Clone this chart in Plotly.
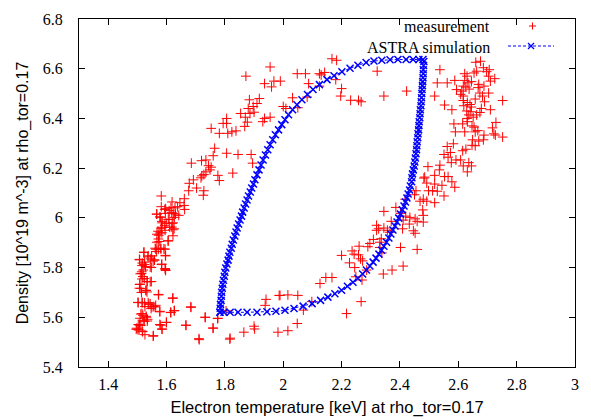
import plotly.graph_objects as go

# ---------------- data ----------------
meas_T = [
    1.955,1.872,1.936,1.968,1.990,1.960,1.884,1.918,1.910,1.897,1.880,1.900,1.886,1.854,1.870,1.936,1.955,1.930,1.877,1.806,
    1.806,1.794,1.868,1.838,1.824,1.810,1.753,1.781,1.765,1.760,1.806,1.845,1.890,1.895,1.685,1.720,1.735,1.744,1.753,
    2.048,2.076,2.087,2.167,2.183,2.124,2.142,2.130,2.180,2.322,2.200,2.124,2.032,2.082,2.197,2.231,2.258,2.267,2.345,2.423,
    2.000,2.009,2.050,2.496,
    2.537,2.660,2.676,2.686,2.706,2.697,2.663,2.654,2.622,2.630,2.704,2.725,2.710,2.622,2.588,2.562,2.528,2.633,2.645,2.670,
    2.617,2.626,2.637,2.688,2.668,2.594,2.612,2.608,2.617,2.674,2.704,2.683,2.519,2.658,2.617,2.631,2.690,2.752,2.640,2.619,
    2.553,2.645,2.679,2.710,2.578,2.629,2.643,2.674,2.636,2.663,2.630,2.651,2.585,2.615,2.631,2.647,2.654,2.729,2.717,2.590,
    2.622,2.658,2.667,2.688,2.722,2.727,2.752,2.649,2.670,2.686,2.583,2.647,2.658,2.562,2.615,2.626,2.573,2.551,2.565,2.592,
    2.608,2.576,2.636,2.617,2.645,2.537,2.535,2.631,2.519,2.553,2.565,2.578,2.519,2.544,2.588,2.512,2.528,2.551,
    2.485,2.492,2.498,2.480,2.492,2.519,2.478,2.480,2.480,
    2.482,2.455,2.450,2.469,2.418,2.452,2.434,2.420,2.459,2.386,2.345,2.402,2.411,2.370,2.432,2.409,2.446,2.452,
    2.320,2.327,2.320,2.345,2.357,2.366,2.336,2.331,2.309,2.297,2.290,2.260,2.331,2.402,2.459,2.236,2.243,2.258,2.265,2.272,
    2.338,2.200,2.227,2.245,2.411,2.373,2.343,2.286,2.249,2.270,2.146,2.167,2.126,1.989,2.016,2.050,2.098,2.267,2.069,2.217,
    2.048,2.016,
    1.776,1.827,1.781,1.735,1.728,1.721,1.692,1.678,1.703,1.728,1.726,1.676,1.582,1.619,1.646,1.660,1.662,1.582,1.594,1.609,
    1.566,1.577,1.596,1.623,1.642,1.584,1.609,1.619,1.594,1.626,1.571,1.584,1.573,1.605,1.575,1.561,1.580,1.591,1.566,1.523,
    1.596,1.536,1.546,1.507,1.559,1.525,1.516,1.584,1.548,1.596,1.520,1.514,1.516,1.534,1.548,1.509,1.507,1.530,1.514,1.573,
    1.621,1.502,1.516,1.525,1.539,1.550,1.561,1.683,1.626,1.614,1.577,1.516,1.530,1.509,1.520,1.534,1.600,1.580,1.507,1.498,
    1.518,1.502,1.555,1.584,1.667,1.733,1.760,1.712,1.776,1.817,1.865,1.900,1.902,1.982,1.941,1.938,1.986,1.804,
    1.581,1.595,1.618,1.622,1.567,1.577,1.606,1.572,1.567,1.622,1.563,1.572,1.581,1.595,1.522,1.537,1.549,1.597,1.558,1.554,
    1.508,1.517,1.524,1.528,1.583,1.544,1.595,1.597,1.515,1.510,1.519,1.524,1.533,1.544,1.508,1.512,1.529,1.533,1.572,1.622,
    1.503,1.517,1.537,1.544,1.526,1.556,1.563,1.684,1.547,1.627,1.615,1.577,1.512,1.519,1.531,1.535,1.524,1.732,1.775,
    1.503,1.512,1.496,1.506,1.517,1.526,1.577,1.599,1.585,1.666,1.759,1.554,1.711,1.818,
    1.597,1.615,1.629,1.638,1.618,1.631,1.627,1.606,1.579,1.567,1.585,1.599,1.622,1.611,1.583,1.661,1.718,1.749,
]
meas_n = [
    6.607,6.570,6.540,6.550,6.550,6.527,6.475,6.480,6.460,6.448,6.440,6.425,6.420,6.420,6.405,6.400,6.405,6.387,6.385,6.400,
    6.380,6.380,6.368,6.350,6.346,6.340,6.360,6.340,6.280,6.250,6.260,6.255,6.255,6.220,6.220,6.230,6.233,6.210,6.204,
    6.580,6.580,6.540,6.640,6.634,6.580,6.585,6.575,6.556,6.590,6.520,6.530,6.483,6.486,6.490,6.473,6.473,6.467,6.490,6.510,
    6.448,6.440,6.443,6.206,
    6.596,6.626,6.630,6.604,6.596,6.588,6.590,6.583,6.580,6.570,6.570,6.560,6.550,6.553,6.553,6.543,6.543,6.543,6.548,6.537,
    6.530,6.526,6.518,6.530,6.524,6.516,6.510,6.497,6.490,6.502,6.502,6.490,6.490,6.478,6.472,6.464,6.467,6.472,6.456,6.451,
    6.454,6.446,6.440,6.435,6.435,6.430,6.427,6.424,6.414,6.414,6.400,6.405,6.378,6.378,6.387,6.370,6.365,6.384,6.362,6.346,
    6.346,6.346,6.351,6.333,6.338,6.333,6.325,6.314,6.309,6.314,6.298,6.292,6.290,6.287,6.270,6.276,6.263,6.255,6.244,6.233,
    6.233,6.222,6.222,6.209,6.209,6.212,6.193,6.185,6.171,6.166,6.166,6.145,6.136,6.131,6.123,6.109,6.107,6.088,
    6.164,6.140,6.109,6.075,6.067,6.061,6.032,6.010,5.983,
    6.160,6.109,6.093,6.067,6.075,5.996,6.002,6.007,5.986,6.042,6.026,6.018,5.991,5.986,5.975,5.956,5.948,5.938,
    5.970,5.956,5.950,5.959,5.950,5.942,5.916,5.902,5.913,5.897,5.884,5.886,5.881,5.881,5.873,5.867,5.854,5.851,5.835,5.827,
    5.859,5.849,5.819,5.800,5.806,5.790,5.774,5.790,5.763,5.750,5.760,5.760,5.736,5.688,5.690,5.688,5.663,5.663,5.629,5.615,
    5.575,5.546,
    6.171,6.180,6.150,6.185,6.174,6.169,6.153,6.139,6.120,6.109,6.091,6.109,6.088,6.064,6.061,6.050,6.034,6.045,6.034,6.029,
    6.015,6.004,6.018,6.018,6.010,5.986,5.994,5.978,5.970,5.956,5.946,5.940,5.930,5.908,5.905,5.878,5.878,5.875,5.865,5.862,
    5.849,5.843,5.835,5.833,5.830,5.822,5.808,5.814,5.800,5.792,5.790,5.776,5.754,5.744,5.744,5.733,5.717,5.709,5.700,5.690,
    5.676,5.660,5.660,5.658,5.652,5.642,5.642,5.642,5.626,5.620,5.622,5.615,5.604,5.596,5.588,5.585,5.580,5.568,5.568,5.556,
    5.542,5.550,5.526,5.553,5.568,5.600,5.556,5.510,5.596,5.512,5.540,5.564,5.553,5.540,5.672,5.648,5.688,5.626,
    5.958,5.950,5.963,5.952,5.934,5.939,5.907,5.915,5.902,5.928,5.874,5.874,5.874,5.874,5.861,5.847,5.847,5.847,5.831,5.826,
    5.831,5.818,5.812,5.804,5.812,5.802,5.796,5.788,5.783,5.775,5.764,5.756,5.743,5.743,5.732,5.716,5.708,5.702,5.692,5.678,
    5.659,5.659,5.659,5.654,5.643,5.643,5.648,5.640,5.635,5.627,5.619,5.624,5.613,5.608,5.600,5.592,5.584,5.600,5.595,
    5.571,5.568,5.552,5.549,5.544,5.530,5.571,5.579,5.552,5.568,5.557,5.524,5.514,5.516,
    6.037,6.042,6.040,6.045,6.021,6.015,6.002,5.994,6.002,6.015,5.980,5.978,5.980,5.962,5.962,6.077,6.161,6.193,
]

astra_T = [
    1.783,1.784,1.785,1.787,1.788,1.789,1.791,1.793,1.795,1.798,1.800,1.803,1.807,1.811,1.814,1.817,1.822,1.825,1.829,1.834,
    1.838,1.842,1.847,1.852,1.857,1.861,1.866,1.871,1.876,1.881,1.887,1.892,1.898,1.903,1.910,1.917,1.924,1.931,1.939,1.947,
    1.955,1.964,1.973,1.984,1.995,2.006,2.018,2.032,2.047,2.064,2.083,2.102,2.124,2.150,2.174,2.201,2.229,2.256,2.284,2.311,
    2.338,2.366,2.393,2.421,2.445,2.465,2.479,
    2.482,2.481,2.480,2.480,2.479,2.478,2.477,2.476,2.475,2.474,2.473,2.472,2.470,2.469,2.468,2.466,2.465,2.464,2.462,2.461,
    2.459,2.458,2.457,2.455,2.453,2.451,2.449,2.446,2.443,2.441,2.440,2.436,2.433,2.428,2.424,2.419,2.414,2.408,2.402,2.396,
    2.390,2.383,2.376,2.369,2.362,2.354,2.345,2.337,2.328,2.318,2.308,2.297,2.285,2.272,2.256,2.239,2.220,2.200,2.177,2.153,
    2.128,2.099,2.068,2.037,2.006,1.975,1.944,1.910,1.876,1.845,1.818,1.797,1.783,
]
astra_n = [
    5.620,5.636,5.652,5.668,5.685,5.701,5.717,5.733,5.749,5.765,5.781,5.798,5.814,5.830,5.846,5.862,5.878,5.894,5.911,5.927,
    5.943,5.959,5.975,5.991,6.007,6.023,6.040,6.056,6.072,6.088,6.104,6.120,6.136,6.153,6.173,6.193,6.213,6.233,6.253,6.274,
    6.294,6.314,6.334,6.354,6.375,6.395,6.415,6.435,6.455,6.475,6.496,6.516,6.536,6.556,6.572,6.588,6.602,6.614,6.625,6.631,
    6.634,6.636,6.637,6.637,6.637,6.637,6.637,
    6.629,6.613,6.596,6.580,6.564,6.548,6.532,6.516,6.500,6.483,6.467,6.451,6.435,6.419,6.403,6.387,6.371,6.354,6.338,6.322,
    6.306,6.290,6.274,6.258,6.241,6.225,6.209,6.193,6.177,6.161,6.145,6.128,6.112,6.096,6.080,6.064,6.048,6.032,6.015,5.999,
    5.983,5.967,5.951,5.935,5.919,5.902,5.886,5.870,5.854,5.838,5.822,5.806,5.790,5.774,5.757,5.741,5.725,5.709,5.695,5.681,
    5.668,5.655,5.645,5.635,5.628,5.624,5.622,5.620,5.620,5.620,5.620,5.620,5.620,
]

x_ticks = [1.4, 1.6, 1.8, 2.0, 2.2, 2.4, 2.6, 2.8, 3.0]
x_tick_text = ["1.4", "1.6", "1.8", "2", "2.2", "2.4", "2.6", "2.8", "3"]
y_ticks = [5.4, 5.6, 5.8, 6.0, 6.2, 6.4, 6.6, 6.8]
y_tick_text = ["5.4", "5.6", "5.8", "6", "6.2", "6.4", "6.6", "6.8"]

RED = "#ff0000"
BLUE = "#0000ff"
SERIF = "Liberation Serif, Times New Roman, serif"
SANS = "Liberation Sans, Arial, sans-serif"

fig = go.Figure()
fig.add_trace(go.Scatter(
    x=meas_T, y=meas_n, mode="markers", name="measurement", showlegend=False,
    marker=dict(symbol="cross-thin-open", size=7, color=RED, line=dict(color=RED, width=1)),
))
fig.add_trace(go.Scatter(
    x=astra_T, y=astra_n, mode="lines+markers", name="ASTRA simulation", showlegend=False,
    line=dict(color=BLUE, width=1, dash="3px,2px"),
    marker=dict(symbol="x-thin-open", size=7, color=BLUE, line=dict(color=BLUE, width=1.5)),
))

L, R, T, B = 79, 16, 19, 52
W, H = 591, 419
pw, ph = W - L - R, H - T - B

def px(xp):
    return (xp - L) / pw

def py(yp):
    return 1 - (yp - T) / ph

annotations = [
    dict(text="measurement", x=px(492), y=py(27), xref="paper", yref="paper",
         xanchor="right", yanchor="middle", showarrow=False,
         font=dict(family=SERIF, size=16, color="black")),
    dict(text="ASTRA simulation", x=px(492), y=py(47), xref="paper", yref="paper",
         xanchor="right", yanchor="middle", showarrow=False,
         font=dict(family=SERIF, size=16, color="black")),
]
shapes = [
    # legend sample: red plus
    dict(type="line", xref="paper", yref="paper", x0=px(529), x1=px(536), y0=py(26), y1=py(26),
         line=dict(color=RED, width=1)),
    dict(type="line", xref="paper", yref="paper", x0=px(532.5), x1=px(532.5), y0=py(22.5), y1=py(29.5),
         line=dict(color=RED, width=1)),
    # legend sample: dashed blue line with x
    dict(type="line", xref="paper", yref="paper", x0=px(508), x1=px(554), y0=py(46), y1=py(46),
         line=dict(color=BLUE, width=1, dash="3px,2px")),
    dict(type="line", xref="paper", yref="paper", x0=px(528), x1=px(534), y0=py(43), y1=py(49),
         line=dict(color=BLUE, width=1.3)),
    dict(type="line", xref="paper", yref="paper", x0=px(528), x1=px(534), y0=py(49), y1=py(43),
         line=dict(color=BLUE, width=1.3)),
]

axis_common = dict(
    showgrid=False, zeroline=False, showline=True, linecolor="black", linewidth=1,
    mirror="allticks", ticks="inside", ticklen=6, tickwidth=1, tickcolor="black",
    tickfont=dict(family=SERIF, size=16, color="black"), automargin=False,
)

fig.update_layout(
    width=W, height=H,
    margin=dict(l=L, r=R, t=T, b=B),
    paper_bgcolor="white", plot_bgcolor="white",
    xaxis=dict(range=[1.3, 3.0], tickmode="array", tickvals=x_ticks, ticktext=x_tick_text,
               ticklabelstandoff=3,
               title=dict(text="Electron temperature [keV] at rho_tor=0.17",
                          font=dict(family=SANS, size=16.5, color="black"), standoff=9),
               **axis_common),
    yaxis=dict(range=[5.4, 6.8], tickmode="array", tickvals=y_ticks, ticktext=y_tick_text,
               ticklabelstandoff=12,
               title=dict(text="Density [10^19 m^-3] at rho_tor=0.17",
                          font=dict(family=SANS, size=16, color="black"), standoff=10),
               **axis_common),
    annotations=annotations,
    shapes=shapes,
    showlegend=False,
)

fig.write_html("out.html")
